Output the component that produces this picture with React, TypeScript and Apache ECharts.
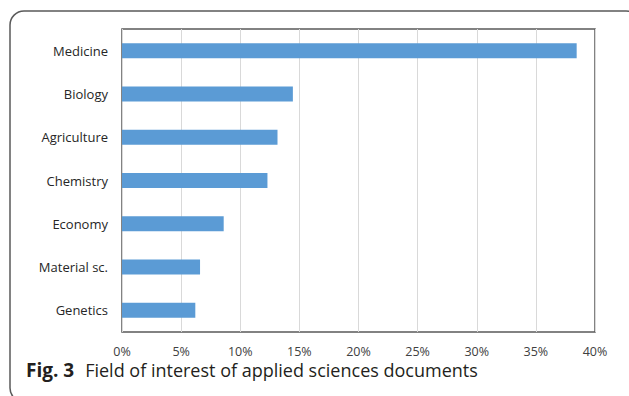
import React, { useEffect, useRef } from "react";
import * as echarts from "echarts";

const categories = [
  "Medicine",
  "Biology",
  "Agriculture",
  "Chemistry",
  "Economy",
  "Material sc.",
  "Genetics",
];
const shares = [38.45, 14.45, 13.15, 12.3, 8.6, 6.6, 6.2];
const tickMax = 40;
const tickStep = 5;
const captionLabel = "Fig. 3";
const captionText = "Field of interest of applied sciences documents";

export default function App() {
  const ref = useRef<HTMLDivElement>(null);

  useEffect(() => {
    if (!ref.current) return;
    const chart = echarts.init(ref.current, null, { renderer: "svg" });
    chart.setOption({
      animation: false,
      backgroundColor: "#ffffff",
      grid: {
        left: 122,
        right: 34,
        top: 29,
        bottom: 64,
        show: true,
        borderColor: "#595959",
        borderWidth: 1.5,
        backgroundColor: "transparent",
      },
      xAxis: {
        type: "value",
        min: 0,
        max: tickMax,
        interval: tickStep,
        axisLine: { show: false },
        axisTick: { show: false },
        splitLine: { show: true, lineStyle: { color: "#d9d9d9", width: 1 } },
        axisLabel: {
          formatter: "{value}%",
          color: "#404040",
          fontFamily: "Open Sans",
          fontSize: 12.5,
          lineHeight: 14,
          margin: 12,
        },
      },
      yAxis: {
        type: "category",
        data: categories,
        inverse: true,
        axisLine: { show: false },
        axisTick: { show: false },
        splitLine: { show: false },
        axisLabel: {
          color: "#262626",
          fontFamily: "Open Sans",
          fontSize: 13,
          margin: 14,
        },
      },
      series: [
        {
          type: "bar",
          data: shares,
          barWidth: 15,
          itemStyle: { color: "#5b9bd5" },
        },
      ],
      graphic: [
        {
          type: "rect",
          shape: { x: 10, y: 11, width: 630, height: 391, r: 14 },
          style: { fill: "none", stroke: "#5a5a5a", lineWidth: 1.5 },
          silent: true,
        },
        {
          type: "text",
          x: 26,
          y: 379,
          style: {
            text: `{b|${captionLabel}}{n|${captionText}}`,
            textVerticalAlign: "bottom",
            rich: {
              b: {
                fontFamily: "Open Sans",
                fontWeight: "bold",
                fontSize: 19,
                lineHeight: 18,
                fill: "#231f20",
              },
              n: {
                fontFamily: "Open Sans",
                fontSize: 18,
                lineHeight: 18,
                padding: [0, 0, 0, 11],
                fill: "#231f20",
              },
            },
          },
        },
      ],
    });
    return () => chart.dispose();
  }, []);

  return (
    <div
      ref={ref}
      style={{ position: "fixed", left: 0, top: 0, width: 629, height: 396 }}
    />
  );
}
